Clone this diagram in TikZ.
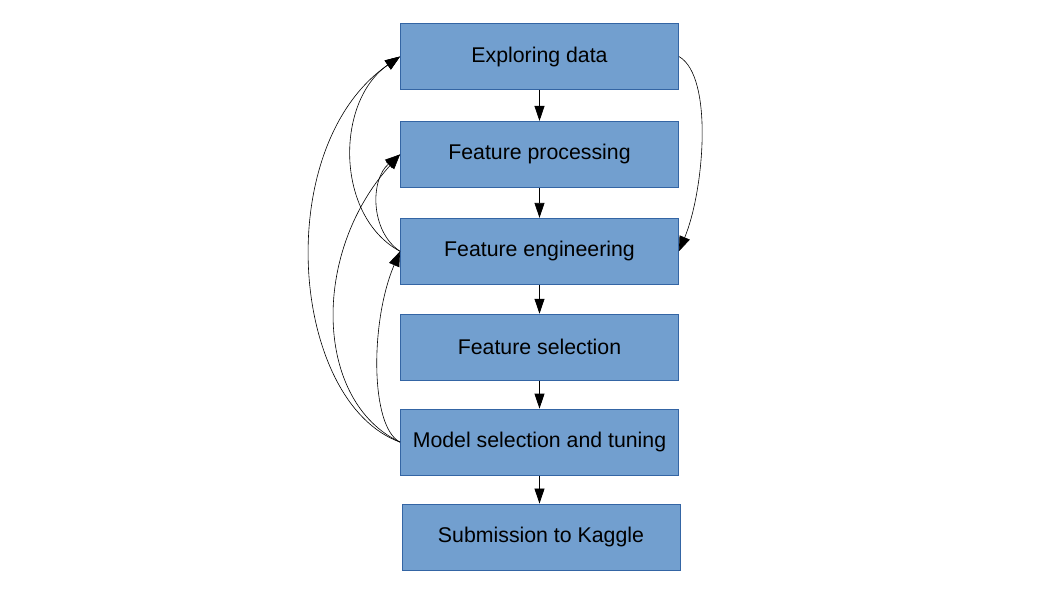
\documentclass[tikz,border=0pt]{standalone}
\usepackage{fontspec}
\setmainfont{Liberation Sans}
\usepackage{tikz}
\usetikzlibrary{arrows.meta,positioning}
\definecolor{FlowFill}{HTML}{729FCF}
\definecolor{FlowEdge}{HTML}{3465A4}
\tikzset{
  phase/.style={draw=FlowEdge, fill=FlowFill, line width=0.9pt,
                minimum width=278pt, minimum height=66pt, align=center, inner sep=3pt},
  flow/.style={-{Triangle[length=15pt,width=10pt]}, line width=0.8pt, draw=black},
  back/.style={-{Triangle[length=15pt,width=11pt]}, line width=0.6pt, draw=black},
}
\begin{document}
\begin{tikzpicture}[x=1pt,y=1pt,node distance=29pt,font=\fontsize{21.3}{25}\selectfont]
    \useasboundingbox (-539.5,56.5) rectangle (518.5,-538.5);
    \node[phase] (explore) {Exploring data};
    \node[phase,below=31pt of explore] (process) {Feature processing};
    \node[phase,below=30pt of process] (engineer) {Feature engineering};
    \node[phase,below=of engineer] (select) {Feature selection};
    \node[phase,below=28pt of select] (model) {Model selection and tuning};
    \node[phase,below=28pt of model,xshift=1.5pt] (submit) {Submission to Kaggle};
    \draw[flow] (explore) -- (process);
    \draw[flow] (process) -- (engineer);
    \draw[flow] (engineer) -- (select);
    \draw[flow] (select) -- (model);
    \draw[flow] (model.south) -- (model.south |- submit.north);
    % feedback loops
    \draw[back] (engineer.west) .. controls +(-65,35) and +(-65,-45) .. (explore.west);
    \draw[back] (engineer.west) .. controls +(-30,20) and +(-30,-25) .. (process.west);
    \draw[back] (model.west) .. controls +(-110,40) and +(-130,-90) .. (explore.west);
    \draw[back] (model.west) .. controls +(-85,40) and +(-90,-100) .. (process.west);
    \draw[back] (model.west) .. controls +(-30,15) and +(-30,-70) .. (engineer.west);
    \draw[back] (explore.east) .. controls +(35,-20) and +(25,60) .. (engineer.east);
  \end{tikzpicture}
\end{document}
